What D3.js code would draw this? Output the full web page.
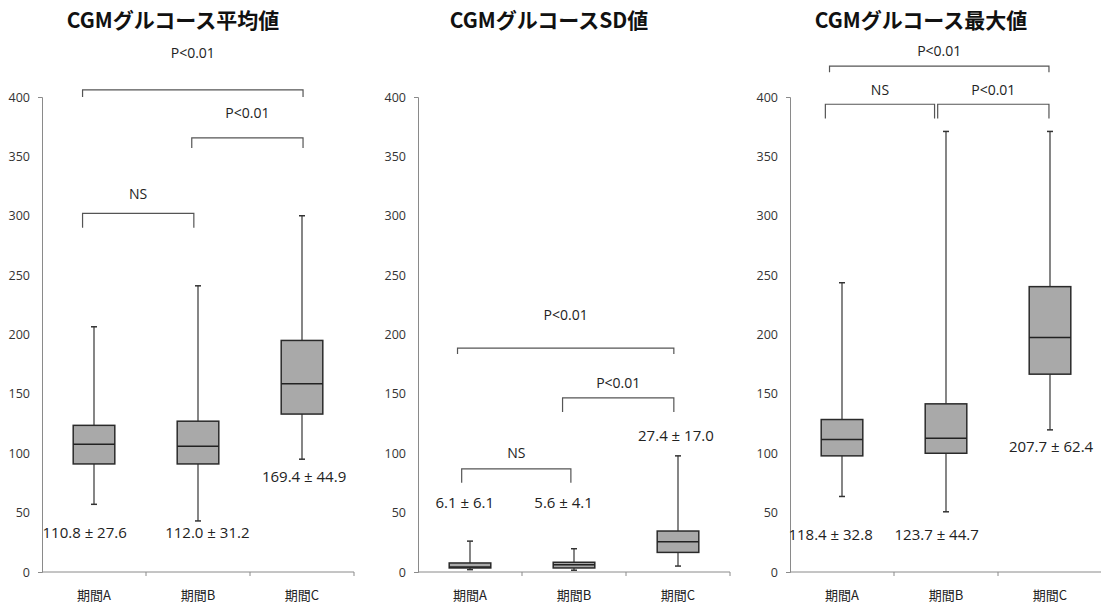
<!DOCTYPE html>
<html lang="ja">
<head>
  <meta charset="UTF-8">
  <title>CGMグルコース</title>
  <script src="https://d3js.org/d3.v7.min.js"></script>
  <style>
    body { margin: 0; background: #fff; }
    svg { display: block; }
    .title { font-family: "Noto Sans CJK JP", sans-serif; font-weight: bold; font-size: 21px; fill: #111; }
    .tick text { font-family: "Open Sans", sans-serif; font-size: 12.5px; fill: #333; }
    .cat { font-family: "Noto Sans CJK JP", sans-serif; font-size: 13px; fill: #222; }
    .note { font-family: "Open Sans", sans-serif; font-size: 15px; fill: #222; }
    .sig { font-family: "Open Sans", sans-serif; font-size: 14px; fill: #222; }
  </style>
</head>
<body>
<svg width="1101" height="605"></svg>
<script>
// categories and titles
const categories = ["期間A", "期間B", "期間C"];
const titles = ["CGMグルコース平均値", "CGMグルコースSD値", "CGMグルコース最大値"];
const yTicks = [0, 50, 100, 150, 200, 250, 300, 350, 400];

// box plot values: [min, q1, median, q3, max]
const meanBoxes = [[57, 91, 107.5, 123.5, 206.5], [43, 91, 106, 127, 241], [95, 133, 158.5, 195, 300]];
const sdBoxes   = [[2, 3.4, 4.2, 7.6, 26], [1.5, 3.4, 6.2, 8.2, 19.6], [5, 16.5, 25.5, 34.5, 97.8]];
const maxBoxes  = [[63.6, 97.8, 111.6, 128.4, 243.6], [50.7, 100, 112.7, 141.6, 371], [119.7, 166.6, 197.4, 240.3, 371]];

// mean ± SD labels: [text, category position, value]
const meanLabels = [["110.8 ± 27.6", 0.41, 33], ["112.0 ± 31.2", 1.59, 33], ["169.4 ± 44.9", 2.52, 80]];
const sdLabels   = [["6.1 ± 6.1", 0.45, 58], ["5.6 ± 4.1", 1.40, 58], ["27.4 ± 17.0", 2.48, 115]];
const maxLabels  = [["118.4 ± 32.8", 0.39, 31.4], ["123.7 ± 44.7", 1.41, 31.4], ["207.7 ± 62.4", 2.51, 105.7]];

// significance brackets: [label, from, to, level, foot, labelLevel]
const meanBrackets = [["P<0.01", 0.39, 2.51, 406, 400, 437], ["P<0.01", 1.44, 2.51, 365.5, 357, 386.5], ["NS", 0.39, 1.46, 302, 290, 318]];
const sdBrackets   = [["P<0.01", 0.38, 2.46, 188.6, 183.6, 216.4], ["P<0.01", 1.39, 2.46, 146.6, 134.8, 159.2], ["NS", 0.42, 1.47, 86.9, 75.1, 100.3]];
const maxBrackets  = [["P<0.01", 0.38, 2.49, 426, 420.8, 439], ["NS", 0.34, 1.39, 393.9, 382, 405.5], ["P<0.01", 1.42, 2.49, 393.9, 382, 405.5]];

const panels = [
  { left: 42, title: titles[0], boxes: meanBoxes, labels: meanLabels, brackets: meanBrackets },
  { left: 418, title: titles[1], boxes: sdBoxes, labels: sdLabels, brackets: sdBrackets },
  { left: 790, title: titles[2], boxes: maxBoxes, labels: maxLabels, brackets: maxBrackets }
];

const svg = d3.select("svg");
const plotW = 312;
const y = d3.scaleLinear().domain([0, 400]).range([572, 97]);

panels.forEach(p => {
  const g = svg.append("g").attr("transform", `translate(${p.left},0)`);
  const xc = d3.scaleLinear().domain([0, 3]).range([0, plotW]);
  const band = xc(1) - xc(0);
  const boxW = band * 0.4;

  g.append("text").attr("class", "title")
    .attr("x", 131).attr("y", 21).attr("dy", "0.35em")
    .attr("text-anchor", "middle").text(p.title);

  // y axis
  const yAxis = g.append("g")
    .call(d3.axisLeft(y).tickValues(yTicks).tickSizeInner(0).tickSizeOuter(4).tickPadding(12));
  yAxis.select(".domain").attr("stroke", "#8a8a8a");

  // x axis
  g.append("line").attr("x1", 0).attr("x2", plotW)
    .attr("y1", y(0)).attr("y2", y(0)).attr("stroke", "#8a8a8a");
  g.selectAll(".xtick").data([1, 2, 3]).enter().append("line")
    .attr("x1", d => xc(d)).attr("x2", d => xc(d))
    .attr("y1", y(0)).attr("y2", y(0) + 4).attr("stroke", "#8a8a8a");
  g.selectAll(".cat").data(categories).enter().append("text")
    .attr("class", "cat")
    .attr("x", (d, i) => xc(i + 0.5)).attr("y", 595).attr("dy", "0.35em")
    .attr("text-anchor", "middle").text(d => d);

  // boxes
  p.boxes.forEach((b, i) => {
    const cx = xc(i + 0.5);
    const [mn, q1, md, q3, mx] = b;
    g.append("line").attr("x1", cx).attr("x2", cx).attr("y1", y(mx)).attr("y2", y(q3))
      .attr("stroke", "#444").attr("stroke-width", 1.3);
    g.append("line").attr("x1", cx).attr("x2", cx).attr("y1", y(q1)).attr("y2", y(mn))
      .attr("stroke", "#444").attr("stroke-width", 1.3);
    [mn, mx].forEach(v => g.append("line")
      .attr("x1", cx - 3).attr("x2", cx + 3).attr("y1", y(v)).attr("y2", y(v))
      .attr("stroke", "#333").attr("stroke-width", 1.5));
    g.append("rect")
      .attr("x", cx - boxW / 2).attr("width", boxW)
      .attr("y", y(q3)).attr("height", y(q1) - y(q3))
      .attr("fill", "#a9a9a9").attr("stroke", "#2a2a2a").attr("stroke-width", 1.5);
    g.append("line").attr("x1", cx - boxW / 2).attr("x2", cx + boxW / 2)
      .attr("y1", y(md)).attr("y2", y(md)).attr("stroke", "#222").attr("stroke-width", 1.5);
  });

  // mean ± SD labels
  g.selectAll(".note").data(p.labels).enter().append("text")
    .attr("class", "note")
    .attr("x", d => xc(d[1])).attr("y", d => y(d[2])).attr("dy", "0.35em")
    .attr("text-anchor", "middle").text(d => d[0]);

  // brackets
  p.brackets.forEach(br => {
    const [lab, a, b, lvl, foot, ly] = br;
    g.append("path")
      .attr("d", `M${xc(a)},${y(foot)}V${y(lvl)}H${xc(b)}V${y(foot)}`)
      .attr("fill", "none").attr("stroke", "#555").attr("stroke-width", 1.2);
    g.append("text").attr("class", "sig")
      .attr("x", xc((a + b) / 2)).attr("y", y(ly)).attr("dy", "0.35em")
      .attr("text-anchor", "middle").text(lab);
  });
});
</script>
</body>
</html>
